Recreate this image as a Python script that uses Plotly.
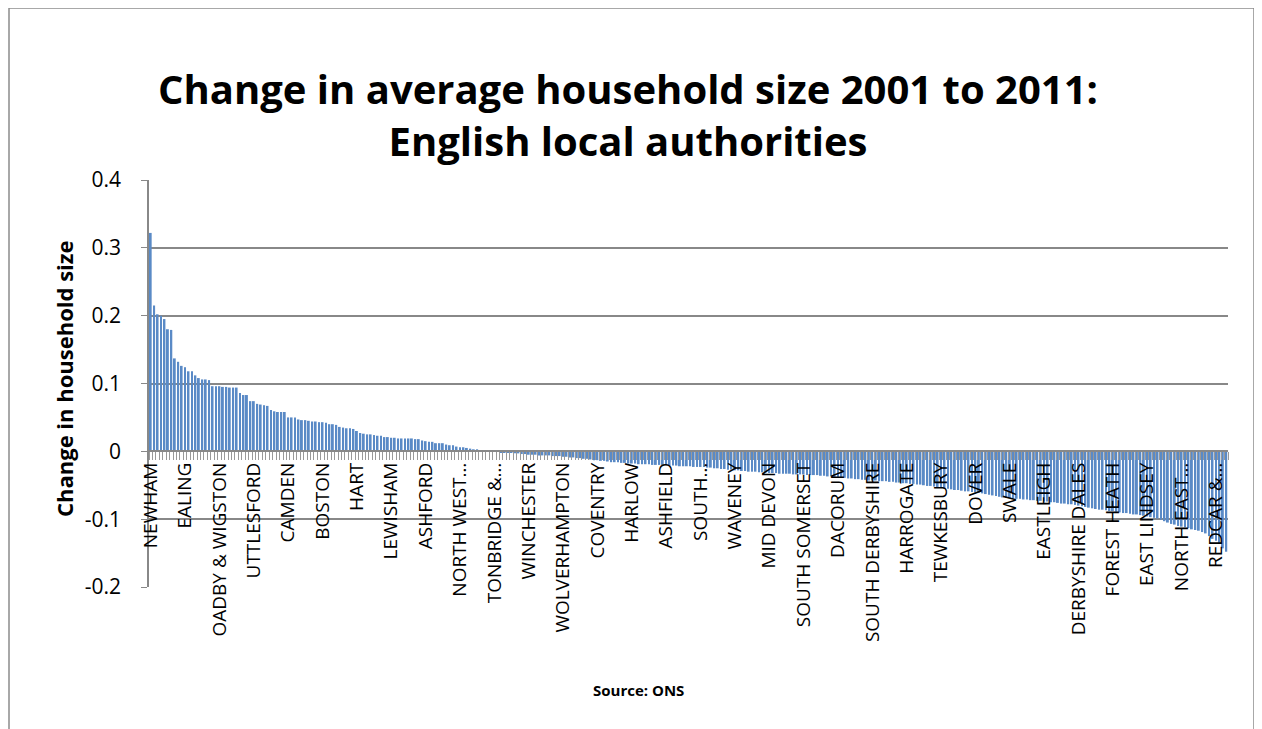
import plotly.graph_objects as go

# Change in average household size (2001->2011), sorted descending, one value per local authority
values_positive = [
    0.322, 0.215, 0.202, 0.200, 0.195, 0.180, 0.179, 0.137, 0.132, 0.126,
    0.124, 0.118, 0.118, 0.112, 0.108, 0.106, 0.106, 0.105, 0.096, 0.096,
    0.096, 0.095, 0.095, 0.094, 0.094, 0.094, 0.086, 0.083, 0.083, 0.074,
    0.074, 0.070, 0.069, 0.068, 0.067, 0.061, 0.059, 0.058, 0.058, 0.058,
    0.050, 0.050, 0.050, 0.047, 0.046, 0.046, 0.045, 0.044, 0.044, 0.043,
    0.043, 0.042, 0.040, 0.040, 0.039, 0.036, 0.035, 0.034, 0.034, 0.033,
    0.030, 0.027, 0.026, 0.025, 0.025, 0.024, 0.023, 0.023, 0.021, 0.021,
    0.020, 0.020, 0.019, 0.019, 0.019, 0.019, 0.019, 0.018, 0.018, 0.016,
    0.015, 0.014, 0.014, 0.012, 0.012, 0.012, 0.010, 0.009, 0.009, 0.007,
    0.006, 0.006, 0.005, 0.004, 0.003, 0.003, 0.002, 0.002, 0.001, 0.001,
    0.001, 0.001,
]
values_negative = [
    -0.001, -0.001, -0.002, -0.002, -0.003, -0.003, -0.004, -0.004,
    -0.005, -0.005, -0.005, -0.006, -0.006, -0.006, -0.006, -0.007, -0.007, -0.007,
    -0.008, -0.008, -0.009, -0.009, -0.010, -0.010, -0.011, -0.011, -0.012, -0.013,
    -0.013, -0.014, -0.014, -0.015, -0.016, -0.016, -0.016, -0.017, -0.017, -0.018,
    -0.018, -0.018, -0.019, -0.019, -0.019, -0.019, -0.020, -0.020, -0.020, -0.020,
    -0.020, -0.021, -0.021, -0.021, -0.022, -0.022, -0.022, -0.022, -0.023, -0.023,
    -0.023, -0.023, -0.024, -0.024, -0.025, -0.025, -0.026, -0.026, -0.027, -0.027,
    -0.028, -0.028, -0.029, -0.029, -0.030, -0.030, -0.030, -0.031, -0.031, -0.031,
    -0.032, -0.032, -0.032, -0.033, -0.033, -0.033, -0.033, -0.034, -0.034, -0.034,
    -0.034, -0.035, -0.035, -0.035, -0.035, -0.036, -0.036, -0.037, -0.037, -0.038,
    -0.038, -0.039, -0.039, -0.040, -0.040, -0.041, -0.041, -0.042, -0.042, -0.043,
    -0.043, -0.043, -0.044, -0.044, -0.044, -0.045, -0.045, -0.046, -0.046, -0.047,
    -0.047, -0.048, -0.048, -0.049, -0.049, -0.050, -0.051, -0.051, -0.052, -0.053,
    -0.054, -0.055, -0.055, -0.056, -0.057, -0.057, -0.058, -0.059, -0.059, -0.060,
    -0.061, -0.061, -0.062, -0.063, -0.064, -0.065, -0.066, -0.067, -0.068, -0.068,
    -0.069, -0.069, -0.070, -0.070, -0.071, -0.071, -0.072, -0.072, -0.073, -0.073,
    -0.074, -0.074, -0.075, -0.075, -0.076, -0.077, -0.077, -0.078, -0.078, -0.079,
    -0.080, -0.081, -0.082, -0.083, -0.084, -0.085, -0.086, -0.086, -0.087, -0.088,
    -0.088, -0.089, -0.090, -0.091, -0.091, -0.092, -0.093, -0.093, -0.094, -0.095,
    -0.096, -0.097, -0.098, -0.099, -0.101, -0.103, -0.105, -0.107, -0.108, -0.110,
    -0.111, -0.112, -0.113, -0.115, -0.116, -0.117, -0.119, -0.121, -0.125, -0.129,
    -0.132, -0.136, -0.143, -0.148,
]
values = values_positive + values_negative

# Labels shown on the category axis (every 10th authority)
tick_labels = [
    "NEWHAM", "EALING", "OADBY & WIGSTON", "UTTLESFORD", "CAMDEN", "BOSTON",
    "HART", "LEWISHAM", "ASHFORD", "NORTH WEST…", "TONBRIDGE &…", "WINCHESTER",
    "WOLVERHAMPTON", "COVENTRY", "HARLOW", "ASHFIELD", "SOUTH…", "WAVENEY",
    "MID DEVON", "SOUTH SOMERSET", "DACORUM", "SOUTH DERBYSHIRE", "HARROGATE",
    "TEWKESBURY", "DOVER", "SWALE", "EASTLEIGH", "DERBYSHIRE DALES",
    "FOREST HEATH", "EAST LINDSEY", "NORTH EAST…", "REDCAR &…",
]
label_step = 10

y_ticks = [0.4, 0.3, 0.2, 0.1, 0, -0.1, -0.2]
y_tick_text = ["0.4", "0.3", "0.2", "0.1", "0", "-0.1", "-0.2"]

n = len(values)
x_idx = list(range(n))
tick_positions = [i * label_step for i in range(len(tick_labels))]

FONT = "Open Sans"
GRID = "#888888"

fig = go.Figure()
fig.add_trace(go.Bar(
    x=x_idx, y=values,
    marker=dict(color="#5A8AC6", line=dict(width=0)),
    hoverinfo="y",
))

# page body has an 8px margin; compensate so that page pixels line up
OFF = 8
W, H = 1262, 729
L, R, T, B = 149 - OFF, 34 + OFF, 180 - OFF, 142 + OFF
pw, ph = W - L - R, H - T - B


def px_to_paper(xp, yp):
    return (xp - OFF - L) / pw, 1 - (yp - OFF - T) / ph


fig.update_layout(
    width=W, height=H,
    margin=dict(l=L, r=R, t=T, b=B, autoexpand=False),
    paper_bgcolor="white", plot_bgcolor="white",
    bargap=0.45,
    showlegend=False,
    font=dict(family=FONT, color="black"),
    title=dict(
        text="Change in average household size 2001 to 2011:<br>English local authorities",
        font=dict(family=FONT, size=40, color="black", weight="bold"),
        x=(628 - OFF) / W, xanchor="center", y=1 - (104 - OFF) / H, yanchor="middle",
        xref="container", yref="container",
    ),
    xaxis=dict(
        range=[-0.5, n - 0.5],
        anchor="free", position=1 / 3,
        showgrid=False, zeroline=False,
        showline=True, linecolor=GRID, linewidth=1.5,
        tickmode="array", tickvals=tick_positions, ticktext=tick_labels,
        tickangle=-90, ticks="",
        tickfont=dict(family=FONT, size=19, color="black"),
        ticklabelstandoff=3,
        minor=dict(tickmode="linear", tick0=-0.5, dtick=1, ticks="outside",
                   ticklen=8, tickcolor="#999999", tickwidth=1, showgrid=False),
    ),
    yaxis=dict(
        range=[-0.2, 0.4],
        tickmode="array", tickvals=y_ticks, ticktext=y_tick_text,
        showgrid=True, gridcolor=GRID, gridwidth=1.5,
        zeroline=True, zerolinecolor=GRID, zerolinewidth=1.5,
        showline=True, linecolor=GRID, linewidth=1.5,
        ticks="outside", ticklen=6, tickcolor=GRID,
        tickfont=dict(family=FONT, size=21, color="black"),
        ticklabelstandoff=16,
    ),
)

# y-axis title
ax, ay = px_to_paper(64, 379)
fig.add_annotation(
    x=ax, y=ay, xref="paper", yref="paper",
    text="<b>Change in household size</b>", textangle=-90,
    showarrow=False, font=dict(family=FONT, size=22, color="black"),
    xanchor="center", yanchor="middle",
)

# source note
sx, sy = px_to_paper(638, 690)
fig.add_annotation(
    x=sx, y=sy, xref="paper", yref="paper",
    text="<b>Source: ONS</b>", showarrow=False,
    font=dict(family=FONT, size=15, color="black"),
    xanchor="center", yanchor="middle",
)

# outer chart border (bottom edge lies outside the picture)
bx0, by0 = px_to_paper(9, 745)
bx1, by1 = px_to_paper(1254, 8)
fig.add_shape(type="rect", xref="paper", yref="paper",
              x0=bx0, y0=by0, x1=bx1, y1=by1,
              line=dict(color="#8c8c8c", width=1.5), layer="below")

fig.write_html("out.html")
